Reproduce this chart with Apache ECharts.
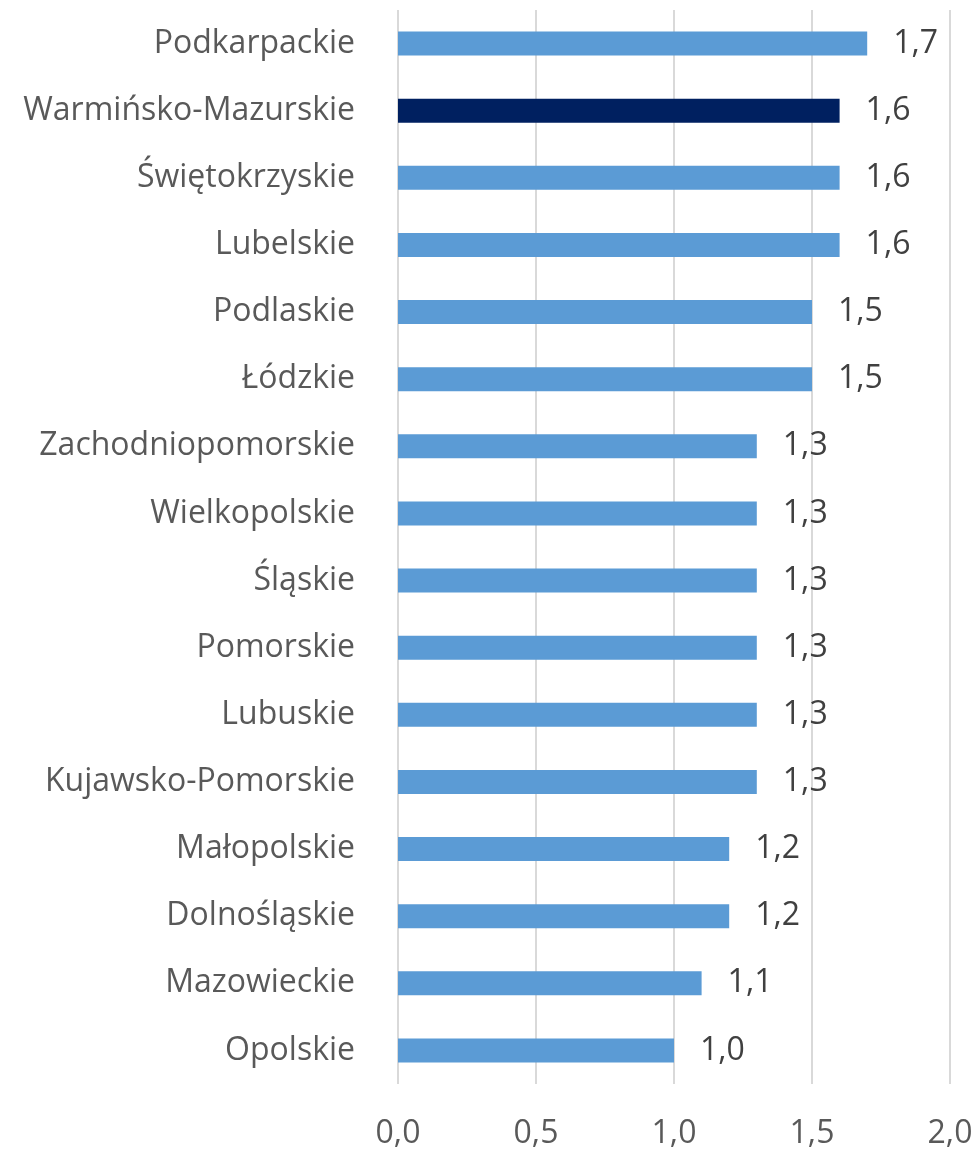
<!DOCTYPE html>
<html>
<head>
<meta charset="utf-8">
<script src="https://cdn.jsdelivr.net/npm/echarts@6/dist/echarts.min.js"></script>
<style>
  html, body { margin: 0; padding: 0; background: #fff; }
  #chart { width: 979px; height: 1150px; }
</style>
</head>
<body>
<div id="chart"></div>
<script>
// regiony od góry do dołu
const regions = [
  "Podkarpackie", "Warmińsko-Mazurskie", "Świętokrzyskie", "Lubelskie",
  "Podlaskie", "Łódzkie", "Zachodniopomorskie", "Wielkopolskie",
  "Śląskie", "Pomorskie", "Lubuskie", "Kujawsko-Pomorskie",
  "Małopolskie", "Dolnośląskie", "Mazowieckie", "Opolskie"
];
const values = [1.7, 1.6, 1.6, 1.6, 1.5, 1.5, 1.3, 1.3, 1.3, 1.3, 1.3, 1.3, 1.2, 1.2, 1.1, 1.0];
const highlighted = "Warmińsko-Mazurskie";
const xTicks = [0, 0.5, 1.0, 1.5, 2.0];

const fmt = (v) => v.toFixed(1).replace(".", ",");

const chart = echarts.init(document.getElementById("chart"));
chart.setOption({
  animation: false,
  textStyle: { fontFamily: "Open Sans" },
  grid: { left: 398, right: 29, top: 10, bottom: 66 },
  xAxis: {
    type: "value",
    min: xTicks[0],
    max: xTicks[xTicks.length - 1],
    interval: 0.5,
    axisLine: { show: false },
    axisTick: { show: false },
    splitLine: { lineStyle: { color: "#d9d9d9", width: 2 } },
    axisLabel: {
      margin: 34,
      fontSize: 32,
      color: "#595959",
      formatter: fmt
    }
  },
  yAxis: {
    type: "category",
    inverse: true,
    data: regions,
    axisLine: { show: false },
    axisTick: { show: false },
    axisLabel: { margin: 43, fontSize: 32, color: "#595959" }
  },
  series: [
    {
      type: "bar",
      barWidth: 24,
      data: values.map((v, i) => ({
        value: v,
        itemStyle: { color: regions[i] === highlighted ? "#002060" : "#5b9bd5" }
      })),
      label: {
        show: true,
        position: "right",
        distance: 26,
        fontSize: 32,
        color: "#404040",
        formatter: (p) => fmt(p.value)
      }
    }
  ]
});
</script>
</body>
</html>
